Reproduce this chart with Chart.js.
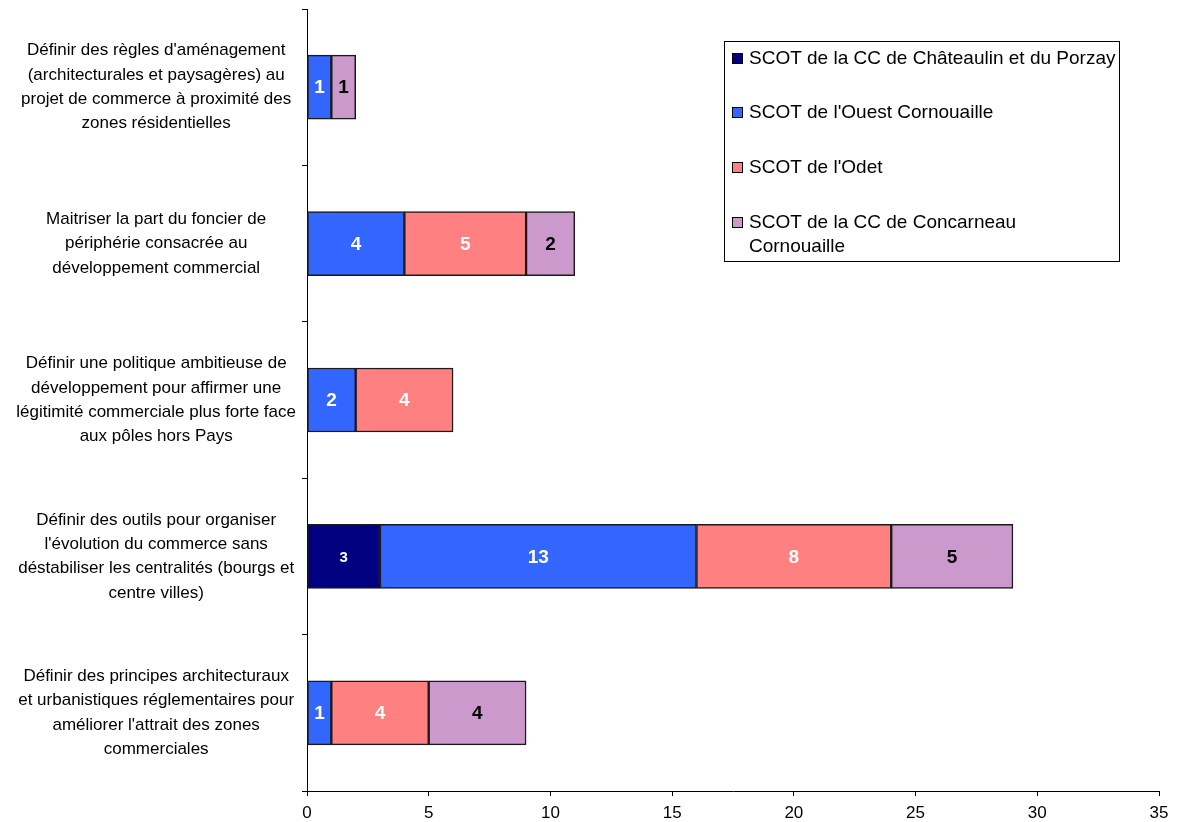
<!DOCTYPE html>
<html>
<head>
<meta charset="utf-8">
<script src="https://cdn.jsdelivr.net/npm/chart.js@4/dist/chart.umd.min.js"></script>
<style>
  html, body { margin: 0; padding: 0; background: #fff; }
  #wrap { width: 1187px; height: 822px; }
</style>
</head>
<body>
<div id="wrap"><canvas id="c" width="1187" height="822"></canvas></div>
<script>
// Objectifs du volet commerce, par SCOT
const categories = [
  ["Définir des règles d'aménagement", "(architecturales et paysagères) au", "projet de commerce à proximité des", "zones résidentielles"],
  ["Maitriser la part du foncier de", "périphérie consacrée au", "développement commercial"],
  ["Définir une politique ambitieuse de", "développement pour affirmer une", "légitimité commerciale plus forte face", "aux pôles hors Pays"],
  ["Définir des outils pour organiser", "l'évolution du commerce sans", "déstabiliser les centralités (bourgs et", "centre villes)"],
  ["Définir des principes architecturaux", "et urbanistiques réglementaires pour", "améliorer l'attrait des zones", "commerciales"]
];

const seriesNames = [
  "SCOT de la CC de Châteaulin et du Porzay",
  "SCOT de l'Ouest Cornouaille",
  "SCOT de l'Odet",
  ["SCOT de la CC de Concarneau", "Cornouaille"]
];

const chateaulin = [0, 0, 0, 3, 0];
const ouestCornouaille = [1, 4, 2, 13, 1];
const odet = [0, 5, 4, 8, 4];
const concarneau = [1, 2, 0, 5, 4];

const xTicks = [0, 5, 10, 15, 20, 25, 30, 35];

const colors = ["#000080", "#3366FF", "#FF8080", "#CC99CC"];
const labelColors = ["#ffffff", "#ffffff", "#ffffff", "#000000"];
const labelSizes = [15, 19, 19, 19];

const FONT = "'Liberation Sans', Arial, sans-serif";

const seriesValues = [chateaulin, ouestCornouaille, odet, concarneau];

const datasets = seriesValues.map((vals, i) => ({
  label: Array.isArray(seriesNames[i]) ? seriesNames[i].join(" ") : seriesNames[i],
  data: vals,
  backgroundColor: colors[i],
  borderColor: "#1a1a1a",
  borderWidth: 1.5,
  borderSkipped: false,
  barThickness: 64
}));

// Value written in the middle of each segment
const segmentLabels = {
  id: "segmentLabels",
  afterDatasetsDraw(chart) {
    const ctx = chart.ctx;
    ctx.save();
    ctx.textAlign = "center";
    ctx.textBaseline = "middle";
    chart.data.datasets.forEach((ds, i) => {
      const meta = chart.getDatasetMeta(i);
      meta.data.forEach((bar, j) => {
        const v = ds.data[j];
        if (!v) return;
        const p = bar.getProps(["x", "y", "base"], true);
        ctx.fillStyle = labelColors[i];
        ctx.font = "bold " + labelSizes[i] + "px " + FONT;
        ctx.fillText(String(v), (p.x + p.base) / 2, p.y + 1);
      });
    });
    ctx.restore();
  }
};

// Boxed legend in the upper right of the plot
const boxedLegend = {
  id: "boxedLegend",
  afterDraw(chart) {
    const ctx = chart.ctx;
    const left = 724, top = 41, right = 1119, bottom = 261;
    ctx.save();
    ctx.strokeStyle = "#000";
    ctx.lineWidth = 1;
    ctx.strokeRect(left + 0.5, top + 0.5, right - left, bottom - top);
    const rows = [58, 112, 167, 222];
    ctx.font = "19px " + FONT;
    ctx.textBaseline = "middle";
    ctx.textAlign = "left";
    seriesNames.forEach((name, i) => {
      const y = rows[i];
      ctx.fillStyle = colors[i];
      ctx.fillRect(732, y - 5, 11, 11);
      ctx.strokeStyle = "#000";
      ctx.strokeRect(732.5, y - 4.5, 10, 10);
      ctx.fillStyle = "#000";
      const lines = Array.isArray(name) ? name : [name];
      lines.forEach((t, k) => ctx.fillText(t, 749, y + 1 + k * 24));
    });
    ctx.restore();
  }
};

new Chart(document.getElementById("c"), {
  type: "bar",
  data: { labels: categories, datasets },
  options: {
    indexAxis: "y",
    responsive: false,
    animation: false,
    devicePixelRatio: 1,
    layout: { padding: { top: 9, right: 28, bottom: 0, left: 0 } },
    plugins: {
      legend: { display: false },
      tooltip: { enabled: false }
    },
    scales: {
      x: {
        stacked: true,
        min: 0,
        max: 35,
        afterBuildTicks(scale) { scale.ticks = xTicks.map(v => ({ value: v })); },
        afterFit(scale) { scale.height = 31; scale.paddingLeft = 0; scale.paddingRight = 0; },
        border: { color: "#000", width: 1 },
        grid: { drawOnChartArea: false, drawTicks: true, tickLength: 5, tickColor: "#000" },
        ticks: { color: "#000", padding: 9, font: { family: FONT, size: 17, lineHeight: 1.0 } }
      },
      y: {
        stacked: true,
        afterFit(scale) { scale.width = 307; scale.paddingTop = 0; scale.paddingBottom = 0; },
        border: { color: "#000", width: 1 },
        grid: { offset: true, drawOnChartArea: false, drawTicks: true, tickLength: 5, tickColor: "#000" },
        ticks: {
          color: "#000",
          padding: 6,
          crossAlign: "center",
          font: { family: FONT, size: 17, lineHeight: 1.43 }
        }
      }
    }
  },
  plugins: [segmentLabels, boxedLegend]
});
</script>
</body>
</html>
